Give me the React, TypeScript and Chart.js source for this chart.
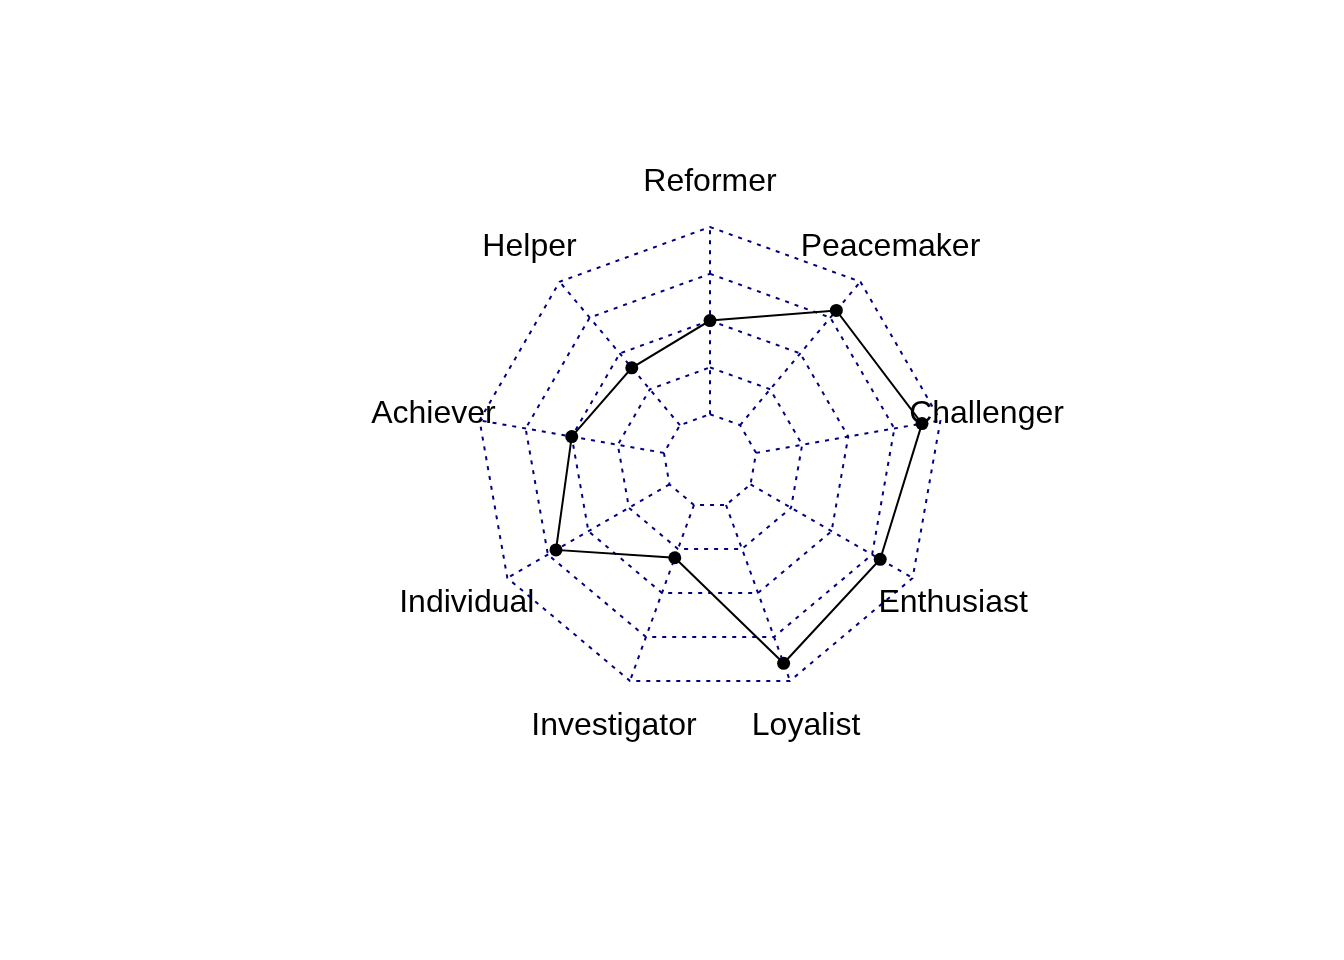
import React, { useEffect, useRef } from "react";
import { Chart, registerables } from "chart.js";

Chart.register(...registerables);

// Clockwise from the top
const categories = ["Reformer", "Peacemaker", "Challenger", "Enthusiast", "Loyalist", "Investigator", "Individual", "Achiever", "Helper"];
const scores = [0.5, 0.8, 0.9, 0.8, 0.9, 0.3, 0.7, 0.5, 0.4];
const gridLevels = [0, 0.25, 0.5, 0.75, 1];

const NAVY = "#000080";
const DASH = [4, 6];

const radarExtras = {
  id: "radarExtras",
  beforeDatasetsDraw(chart: any) {
    const scale = chart.scales.r;
    const ctx = chart.ctx;
    ctx.save();
    ctx.strokeStyle = NAVY;
    ctx.lineWidth = 2;
    ctx.setLineDash(DASH);
    for (let i = 0; i < categories.length; i++) {
      const a = scale.getPointPositionForValue(i, gridLevels[0]);
      const b = scale.getPointPositionForValue(i, gridLevels[gridLevels.length - 1]);
      ctx.beginPath();
      ctx.moveTo(a.x, a.y);
      ctx.lineTo(b.x, b.y);
      ctx.stroke();
    }
    ctx.restore();
  },
  afterDatasetsDraw(chart: any) {
    const scale = chart.scales.r;
    const ctx = chart.ctx;
    ctx.save();
    ctx.fillStyle = "#000000";
    ctx.font = "32px 'Liberation Sans', Arial, sans-serif";
    ctx.textAlign = "center";
    ctx.textBaseline = "alphabetic";
    for (let i = 0; i < categories.length; i++) {
      const p = scale.getPointPositionForValue(i, 1.25);
      ctx.fillText(categories[i], p.x, p.y + 10.5);
    }
    ctx.restore();
  },
};

export default function App() {
  const ref = useRef<HTMLCanvasElement | null>(null);
  useEffect(() => {
    if (!ref.current) return;
    const chart = new Chart(ref.current, {
      type: "radar",
      data: {
        labels: categories,
        datasets: [
          {
            data: scores,
            borderColor: "#000000",
            borderWidth: 2,
            backgroundColor: "#000000",
            pointBackgroundColor: "#000000",
            pointBorderColor: "#000000",
            pointRadius: 6.5,
            pointBorderWidth: 0,
            fill: false,
          },
        ],
      },
      options: {
        animation: false,
        responsive: true,
        maintainAspectRatio: false,
        layout: { padding: { left: 476, right: 400, top: 227, bottom: 265 } },
        plugins: { legend: { display: false }, tooltip: { enabled: false } },
        elements: { line: { tension: 0 } },
        scales: {
          r: {
            min: -0.25,
            max: 1,
            ticks: { display: false, stepSize: 0.25 },
            pointLabels: { display: false },
            angleLines: { display: false },
            grid: {
              circular: false,
              color: (c: any) => (c.index === 0 ? "rgba(0,0,0,0)" : NAVY),
              lineWidth: 2,
              borderDash: DASH,
            },
            border: { dash: DASH },
          },
        },
      },
      plugins: [radarExtras],
    });
    return () => chart.destroy();
  }, []);
  return (
    <div style={{ position: "fixed", left: 0, top: 0, width: 1344, height: 960, background: "#ffffff" }}>
      <canvas ref={ref} />
    </div>
  );
}
